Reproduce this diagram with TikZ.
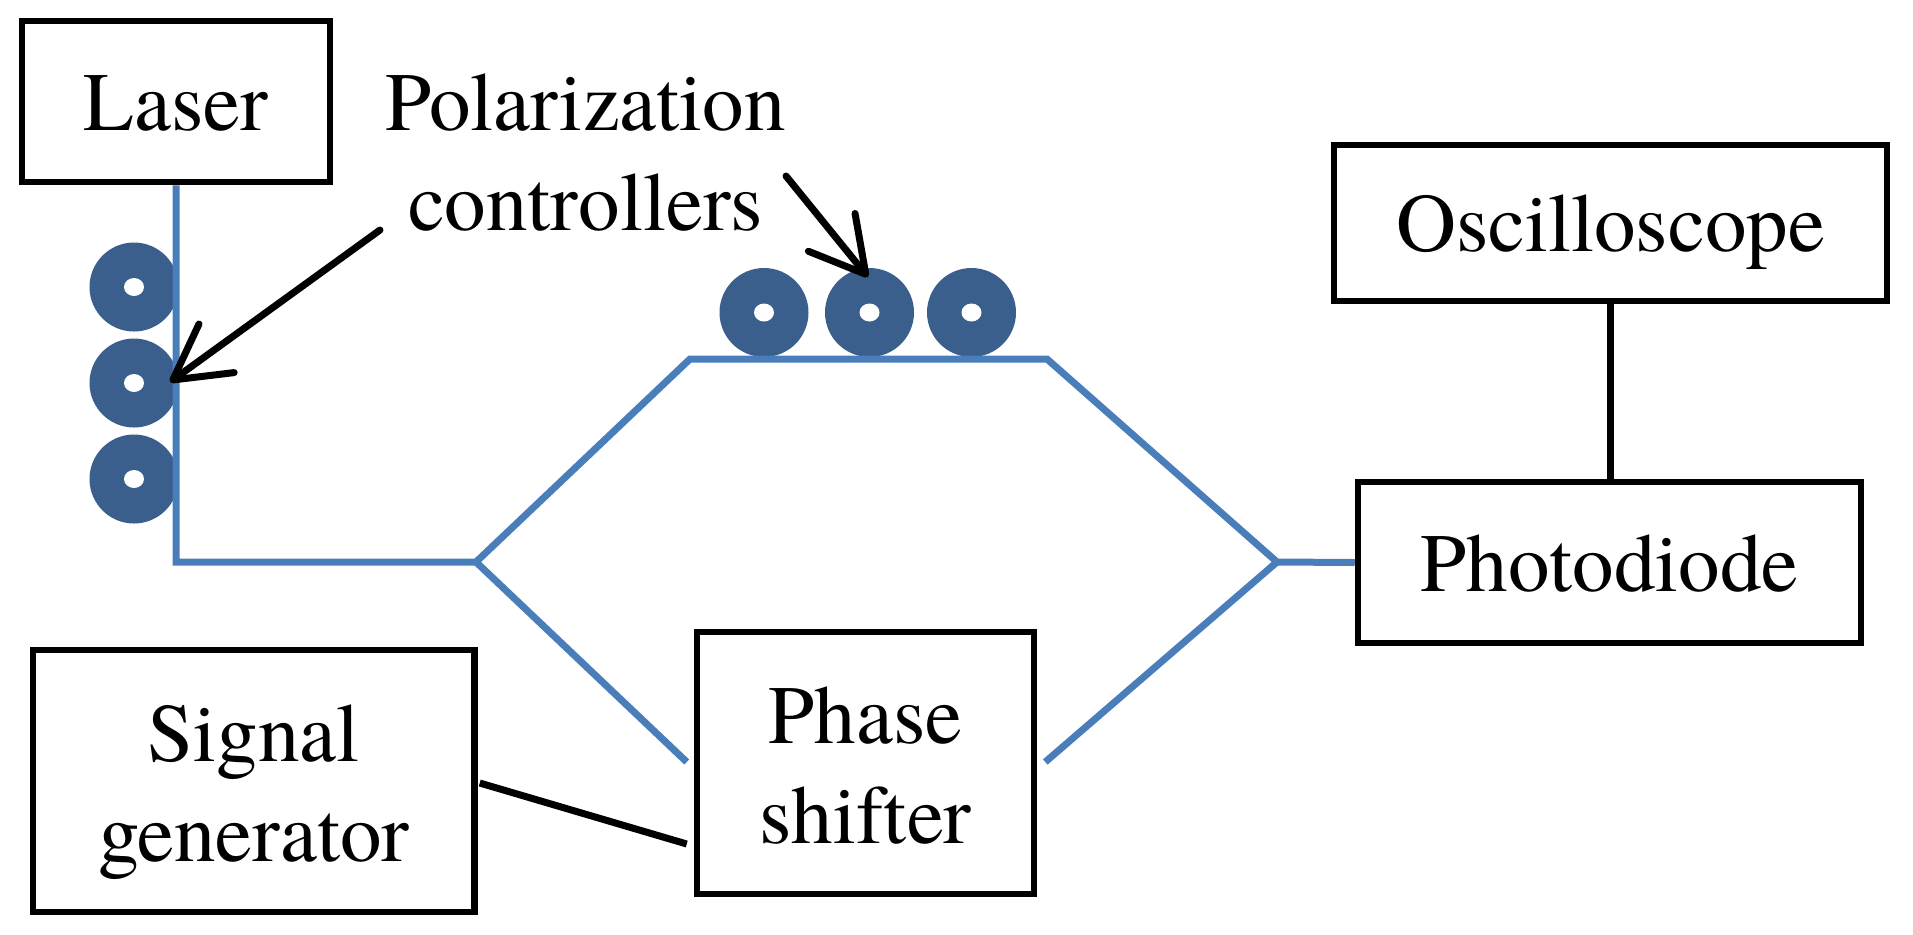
\documentclass[tikz,border=0pt]{standalone}
\usepackage{fontspec}
\setmainfont{texgyretermes}[Extension=.otf, UprightFont=*-regular, BoldFont=*-bold, ItalicFont=*-italic, BoldItalicFont=*-bolditalic]
\usetikzlibrary{arrows.meta,calc}
\definecolor{fiber}{HTML}{4A7EBB}
\definecolor{pcblue}{HTML}{3A5F8C}
\begin{document}
\begin{tikzpicture}[x=0.5pt,y=-0.5pt,
  txt/.style={font=\rmfamily\fontsize{41.5pt}{50pt}\selectfont},
  box/.style={txt, draw=black, line width=3.25pt, rectangle, inner sep=0pt,
              text height=28.5pt, text depth=0pt},
  boxtwo/.style={box, text height=80pt},
  fiberline/.style={draw=fiber, line width=3.5pt, line join=miter},
  wire/.style={draw=black, line width=3.5pt},
  pointer/.style={draw=black, line width=3.5pt, line cap=round, line join=round,
                  -{Straight Barb[length=27pt,width=30pt,round]}},
  ring/.style={fill=pcblue},
  hole/.style={fill=white}
]
\useasboundingbox (0,0) rectangle (1913,934);

% boxes
\node[box, minimum width=154pt, minimum height=80.5pt] (laser) at (176,101.5) {Laser};
\node[box, minimum width=276.5pt, minimum height=78pt] (osc) at (1610.5,223) {Oscilloscope};
\node[box, minimum width=251.5pt, minimum height=80.5pt] (pd) at (1609.5,562.5) {Photodiode};
\node[boxtwo, minimum width=220.75pt, minimum height=131pt] (sg) at (253.75,781)
  {\begin{tabular}[b]{@{}c@{}}Signal\\generator\end{tabular}};
\node[boxtwo, minimum width=168.5pt, minimum height=131pt] (ps) at (865.5,763)
  {\begin{tabular}[b]{@{}c@{}}Phase\\shifter\end{tabular}};

% label
\node[txt, anchor=base, inner sep=0pt] (pclabel) at (585.5,230)
  {\begin{tabular}[b]{@{}c@{}}Polarization\\controllers\end{tabular}};

% polarization controller paddles (left)
\foreach \cy in {287,383,479} {
  \fill[ring] (134,\cy) circle[radius=44.5];
  \fill[hole] (134,\cy) ellipse[x radius=10, y radius=9];
}
% polarization controller paddles (top)
\foreach \cx in {764,869.5,971.5} {
  \fill[ring] (\cx,312.5) circle[radius=44.5];
  \fill[hole] (\cx,312.5) ellipse[x radius=10, y radius=9];
}

% fiber path coordinates
\coordinate (split) at (476,562);
\coordinate (tl) at (690,359);
\coordinate (tr) at (1047,359);
\coordinate (comb) at (1277,562);

\draw[fiberline] (laser.south) -- (laser.south |- split) -- (split) -- (tl) -- (tr) -- (comb) -- (pd.west);
\draw[fiberline] (split) -- ($(ps.west)+(-7,-1)$);
\draw[fiberline] ($(ps.east)+(8,-1)$) -- (comb);

% electrical wires
\draw[wire] ($(sg.east)+(2,2)$) -- ($(ps.west)+(-7,81)$);
\draw[wire] (osc.south) -- (osc.south |- pd.north);

% pointer arrows
\coordinate (t1) at (380,230);
\coordinate (h1) at (170,382);
\coordinate (t2) at (786,176);
\coordinate (h2) at (868,277);
\draw[pointer] (t1) -- (h1);
\draw[pointer] (t2) -- (h2);
\end{tikzpicture}
\end{document}
